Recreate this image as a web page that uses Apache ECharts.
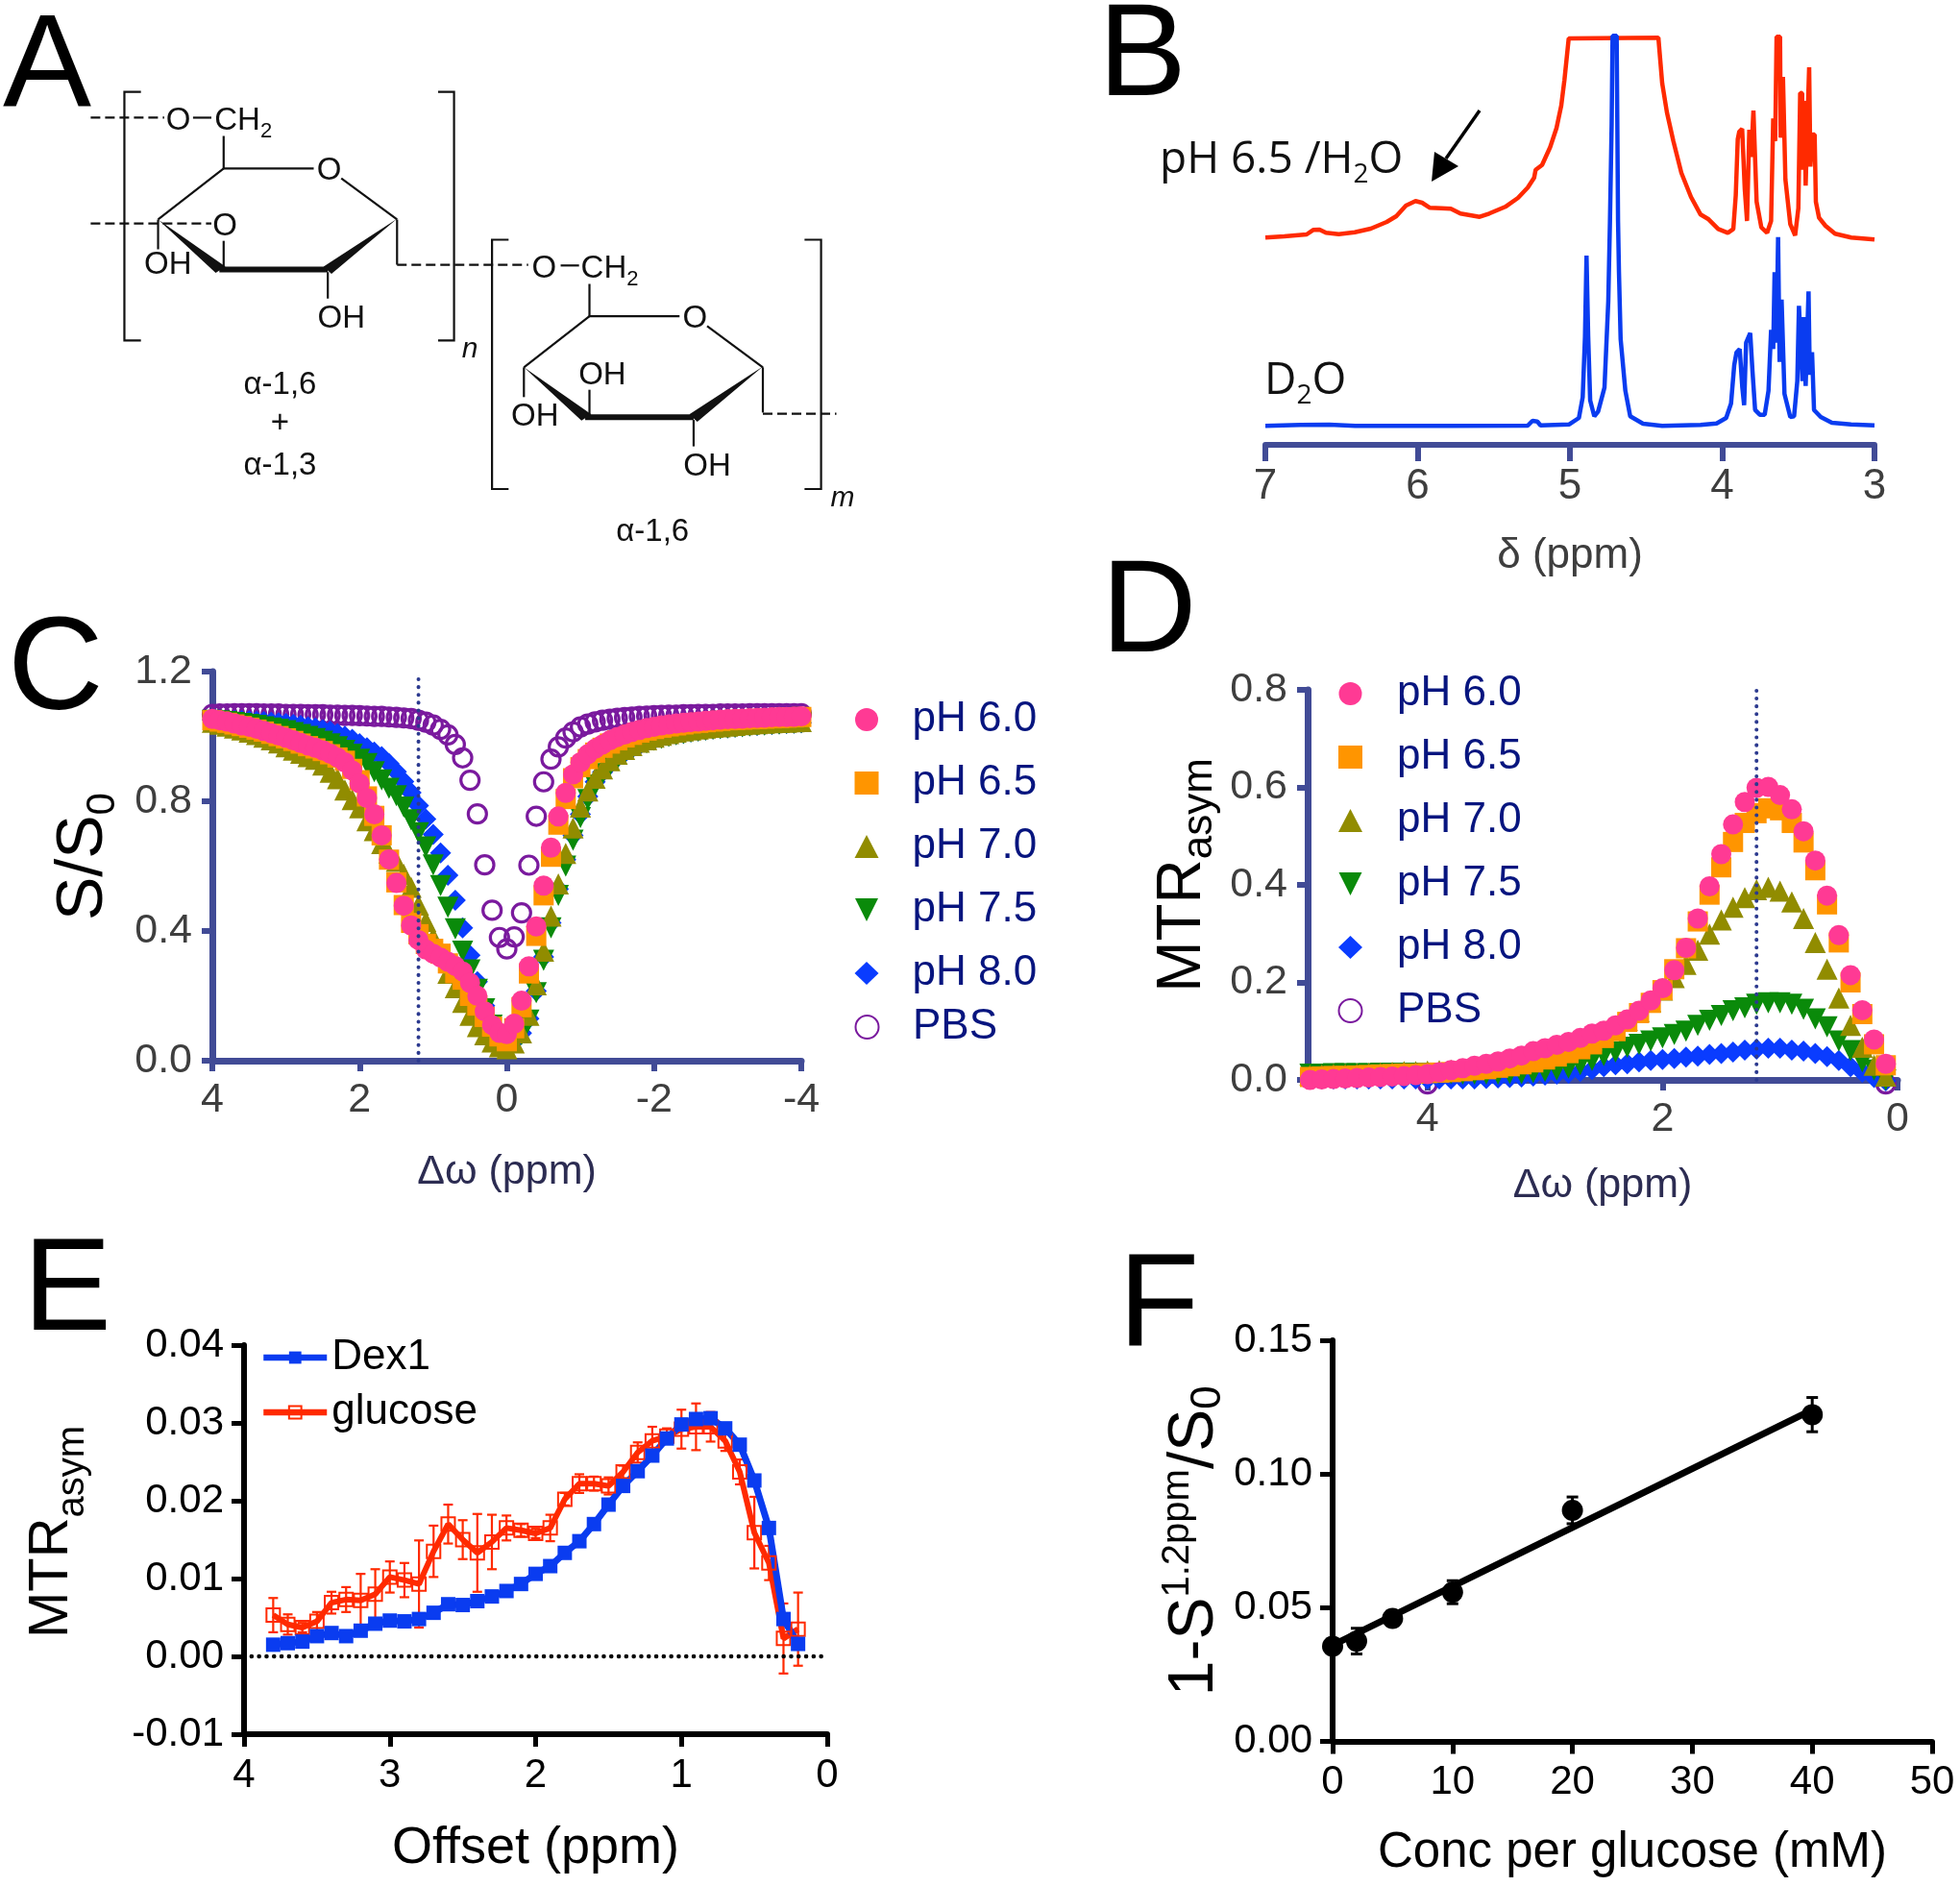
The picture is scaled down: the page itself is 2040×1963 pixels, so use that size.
<!DOCTYPE html>
<html><head><meta charset="utf-8">
<style>html,body{margin:0;padding:0;background:#fff}#c{width:2040px;height:1963px}</style>
<script src="https://cdn.jsdelivr.net/npm/echarts@6/dist/echarts.min.js"></script>
</head><body><div id="c"></div>
<script>
// ---------- Panel B ----------
const nmrRedPpm=[7.00,6.876,6.729,6.686,6.644,6.602,6.518,6.413,6.308,6.203,6.14,6.077,6.014,5.971,5.919,5.845,5.782,5.719,5.656,5.593,5.53,5.425,5.341,5.277,5.235,5.225,5.183,5.13,5.088,5.057,5.036,5.008,4.419,4.394,4.363,4.321,4.268,4.205,4.142,4.089,4.026,3.963,3.927,3.911,3.898,3.888,3.869,3.852,3.837,3.822,3.81,3.795,3.774,3.743,3.705,3.679,3.665,3.652,3.643,3.62,3.616,3.601,3.585,3.553,3.521,3.5,3.488,3.475,3.469,3.459,3.452,3.441,3.429,3.421,3.406,3.393,3.385,3.364,3.322,3.259,3.153,3.0];
const nmrRedInt=[215.7,217,219,223.7,224,220.7,219.3,221.3,225,232,238,249,253.7,252,246.7,246.3,245.7,240.7,239,237.3,240.7,247.7,257,267.7,278,286.3,291.3,309.7,329.7,353,379.7,423,423.7,376.3,346,316.3,283,258,239.7,234.7,224.7,220.7,224.7,259.7,318,326,329,266.3,233,328,299.7,348,253,226.3,220.7,233,339.7,316,424.7,424.7,319.7,383,276.3,229.7,218,246.3,366.3,366,286.3,358,269.7,333,393,289.7,323,323,253,236.3,228,219.7,215.7,213.7];
const nmrBluePpm=[7.0,6.77,6.58,6.41,5.78,5.277,5.246,5.214,5.193,5.004,4.941,4.916,4.901,4.891,4.88,4.867,4.84,4.815,4.773,4.748,4.737,4.726,4.72,4.693,4.684,4.678,4.667,4.636,4.604,4.52,4.394,4.142,4.037,3.974,3.942,3.921,3.906,3.885,3.868,3.856,3.843,3.816,3.801,3.784,3.753,3.721,3.696,3.679,3.665,3.656,3.644,3.633,3.623,3.61,3.591,3.553,3.528,3.507,3.496,3.486,3.473,3.465,3.452,3.433,3.425,3.41,3.397,3.353,3.28,3.154,3.0];
const nmrBlueInt=[19.7,20.7,21,19.7,19.7,20,25,24.3,20.3,21.3,28,49.7,113,197,113,46.3,29.7,34.7,59.7,149.7,233,333,425.7,425.7,233,180,110,56.3,29.7,22,19.7,20.7,22.3,28,43,83,96.3,99.7,59.7,41.3,106.3,116.3,76.3,36.3,31.3,31.3,56.3,119.7,99.7,179.7,106.3,216.3,86.3,151.3,53,29,29.7,66.3,144.7,144.7,66.3,133,61.3,159.7,73,96.3,36.3,29,23,21.3,20.3];

// ---------- Panel C ----------
const zOffsets=[4,3.9,3.8,3.7,3.6,3.5,3.4,3.3,3.2,3.1,3,2.9,2.8,2.7,2.6,2.5,2.4,2.3,2.2,2.1,2,1.9,1.8,1.7,1.6,1.5,1.4,1.3,1.2,1.1,1,.9,.8,.7,.6,.5,.4,.3,.2,.1,0,-.1,-.2,-.3,-.4,-.5,-.6,-.7,-.8,-.9,-1,-1.1,-1.2,-1.3,-1.4,-1.5,-1.6,-1.7,-1.8,-1.9,-2,-2.1,-2.2,-2.3,-2.4,-2.5,-2.6,-2.7,-2.8,-2.9,-3,-3.1,-3.2,-3.3,-3.4,-3.5,-3.6,-3.7,-3.8,-3.9,-4];
const zPh60=[1.054,1.05,1.046,1.04,1.034,1.03,1.024,1.017,1.01,1.003,.996,.988,.98,.972,.965,.957,.947,.935,.92,.895,.855,.81,.76,.695,.621,.548,.478,.417,.372,.343,.33,.318,.305,.292,.275,.24,.2,.152,.11,.086,.082,.114,.185,.291,.414,.54,.657,.753,.826,.883,.92,.945,.962,.975,.988,.998,1.006,1.014,1.02,1.026,1.03,1.034,1.037,1.04,1.042,1.044,1.046,1.048,1.05,1.052,1.053,1.054,1.055,1.056,1.057,1.058,1.059,1.06,1.06,1.061,1.062];
const zPh65=[1.05,1.046,1.042,1.037,1.032,1.027,1.021,1.015,1.008,1.001,.994,.986,.978,.97,.963,.955,.945,.935,.925,.9,.865,.815,.755,.695,.62,.55,.48,.425,.39,.36,.345,.33,.3,.27,.25,.2,.17,.135,.105,.075,.06,.1,.165,.269,.385,.51,.629,.728,.807,.871,.905,.93,.95,.965,.978,.988,.997,1.005,1.012,1.018,1.023,1.027,1.031,1.034,1.037,1.04,1.042,1.044,1.046,1.048,1.05,1.051,1.052,1.053,1.054,1.055,1.056,1.057,1.058,1.059,1.06];
const zPh70=[1.044,1.038,1.032,1.026,1.02,1.013,1.006,.998,.99,.98,.968,.958,.948,.938,.93,.912,.89,.87,.835,.805,.78,.74,.71,.67,.64,.615,.575,.535,.48,.43,.38,.335,.27,.225,.18,.14,.105,.08,.058,.043,.037,.055,.086,.14,.234,.338,.446,.545,.639,.718,.782,.832,.871,.9,.925,.945,.96,.972,.982,.99,.998,1.004,1.009,1.013,1.017,1.02,1.023,1.026,1.028,1.03,1.032,1.034,1.036,1.038,1.039,1.041,1.042,1.043,1.044,1.045,1.046];
const zPh75=[1.05,1.048,1.046,1.043,1.04,1.037,1.034,1.03,1.026,1.022,1.018,1.012,1.006,1,.993,.985,.977,.968,.957,.945,.93,.916,.891,.866,.84,.817,.782,.743,.703,.659,.604,.54,.473,.407,.338,.28,.22,.16,.11,.07,.05,.055,.08,.125,.21,.31,.41,.51,.6,.68,.75,.805,.85,.885,.91,.93,.948,.96,.972,.98,.988,.994,1,1.005,1.009,1.013,1.016,1.019,1.022,1.024,1.026,1.028,1.03,1.032,1.034,1.035,1.037,1.038,1.04,1.041,1.042];
const zPh80=[1.051,1.051,1.05,1.05,1.049,1.048,1.047,1.046,1.044,1.042,1.04,1.037,1.034,1.03,1.026,1.021,1.016,1.009,1.001,.991,.978,.965,.952,.938,.916,.891,.861,.827,.787,.745,.698,.641,.572,.495,.41,.325,.244,.17,.115,.07,.05,.06,.085,.13,.215,.32,.425,.53,.62,.695,.76,.815,.86,.89,.915,.935,.95,.963,.973,.982,.99,.996,1.002,1.006,1.01,1.014,1.017,1.02,1.023,1.025,1.027,1.029,1.031,1.033,1.034,1.036,1.037,1.039,1.04,1.041,1.042];
const zPbs=[1.068,1.069,1.069,1.07,1.07,1.07,1.07,1.069,1.069,1.069,1.068,1.068,1.068,1.067,1.067,1.067,1.066,1.066,1.065,1.065,1.064,1.063,1.062,1.062,1.06,1.059,1.057,1.055,1.05,1.044,1.035,1.022,1.005,.975,.934,.865,.761,.604,.464,.38,.345,.382,.456,.603,.754,.86,.93,.968,.995,1.014,1.029,1.038,1.045,1.05,1.053,1.056,1.058,1.06,1.062,1.063,1.064,1.065,1.066,1.066,1.067,1.067,1.068,1.068,1.068,1.069,1.069,1.069,1.069,1.07,1.07,1.07,1.07,1.07,1.07,1.07,1.07];

// ---------- Panel D ----------
const mOffsets=[5,4.9,4.8,4.7,4.6,4.5,4.4,4.3,4.2,4.1,4,3.9,3.8,3.7,3.6,3.5,3.4,3.3,3.2,3.1,3,2.9,2.8,2.7,2.6,2.5,2.4,2.3,2.2,2.1,2,1.9,1.8,1.7,1.6,1.5,1.4,1.3,1.2,1.1,1,.9,.8,.7,.6,.5,.4,.3,.2,.1];
const mPh60=[0,.001,.002,.003,.004,.005,.006,.007,.008,.01,.012,.016,.02,.024,.029,.033,.038,.044,.05,.059,.065,.072,.078,.086,.095,.101,.112,.124,.142,.163,.188,.225,.271,.331,.397,.463,.524,.57,.599,.601,.584,.555,.51,.45,.378,.297,.215,.143,.083,.033];
const mPh65=[.006,.007,.008,.008,.009,.01,.011,.012,.013,.013,.014,.015,.016,.018,.02,.022,.025,.028,.032,.036,.042,.048,.055,.063,.073,.086,.1,.119,.137,.158,.184,.227,.27,.325,.38,.436,.488,.527,.547,.557,.553,.527,.487,.43,.36,.282,.2,.135,.073,.03];
const mPh70=[.01,.011,.012,.012,.013,.014,.015,.016,.017,.017,.018,.019,.02,.022,.024,.027,.03,.034,.038,.043,.049,.056,.063,.072,.082,.094,.108,.122,.14,.16,.184,.21,.237,.266,.299,.328,.354,.374,.39,.395,.387,.365,.331,.282,.227,.168,.112,.067,.03,.008];
const mPh75=[.012,.012,.013,.013,.013,.013,.014,.014,.014,.014,.014,.013,.013,.012,.012,.012,.012,.013,.013,.015,.017,.02,.024,.031,.04,.05,.057,.067,.073,.08,.086,.093,.1,.112,.122,.132,.142,.148,.155,.158,.158,.155,.145,.125,.109,.08,.06,.037,.02,0];
const mPh80=[.002,.002,.002,.002,.002,.002,.002,.002,.002,.002,.002,.002,.002,.002,.002,.003,.004,.005,.006,.008,.01,.012,.014,.017,.021,.027,.031,.033,.037,.04,.042,.044,.047,.049,.052,.054,.057,.061,.063,.065,.065,.061,.059,.054,.048,.04,.027,.016,.005,-.002];
const mPbsX=[4,.1];
const mPbs=[-.008,-.008];

// ---------- Panel E ----------
const eOffsets=[3.8,3.7,3.6,3.5,3.4,3.3,3.2,3.1,3,2.9,2.8,2.7,2.6,2.5,2.4,2.3,2.2,2.1,2,1.9,1.8,1.7,1.6,1.5,1.4,1.3,1.2,1.1,1,.9,.8,.7,.6,.5,.4,.3,.2];
const eDex1=[.0015,.0017,.0019,.0026,.003,.0026,.0033,.0042,.0046,.0045,.0048,.0056,.0067,.0066,.0071,.0077,.0084,.0093,.0106,.0116,.0133,.0148,.017,.0195,.0219,.0238,.0258,.028,.0298,.0305,.0306,.0293,.0272,.0226,.0165,.0048,.0016];
const eGlucose=[.0053,.0041,.0037,.0045,.0069,.0073,.0072,.008,.0102,.0098,.0093,.0135,.017,.015,.0133,.0147,.0165,.0162,.0158,.0165,.0202,.0222,.0222,.0219,.0237,.0262,.0277,.0283,.0292,.0295,.0295,.0277,.0237,.0159,.012,.0023,.0035];
const eGlucoseErr=[.0022,.0013,.0006,.0012,.0014,.0016,.0034,.0032,.002,.0022,.0056,.0033,.0025,.0025,.005,.0035,.0016,.0008,.0006,.0017,.0008,.0012,.0009,.0011,.0008,.0013,.0018,.001,.0025,.003,.0019,.0013,.0016,.0046,.0022,.0045,.0047];

// ---------- Panel F ----------
const fConc=[0,2,5,10,20,40];
const fSignal=[.0356,.0375,.046,.0558,.0864,.1222];
const fErr=[.001,.0048,.001,.0043,.005,.0064];
const fFitX=[0,40];
const fFitY=[.036,.124];

// ---------- Styling ----------
const FONT='"Liberation Sans",Arial,sans-serif';
const NAVY='#414b96', TICK='#3e3e3e', LEG='#07157f', DARK='#2c2c52';
const PINK='#ff3a94', ORANGE='#ff9500', OLIVE='#918c00', GREEN='#0a8a0a', BLUE='#0a3cff', PURPLE='#7a1a9e', RED='#ff2a00', EBLUE='#0a3cf0';
const zip=(a,b)=>a.map((v,i)=>[v,b[i]]);
const hidden={show:false};

function xa(gi,o){return Object.assign({type:'value',gridIndex:gi,position:'bottom',splitLine:hidden,nameLocation:'middle',
  nameTextStyle:{fontFamily:FONT,fontSize:o.nameSize,color:o.nameColor},nameGap:o.nameGap,
  axisLine:{onZero:false,lineStyle:{color:o.color,width:o.lw}},
  axisTick:{length:o.tl,lineStyle:{color:o.color,width:o.tw}},
  axisLabel:{fontFamily:FONT,fontSize:o.fs,color:o.lc,margin:o.margin,hideOverlap:false,showMinLabel:true,showMaxLabel:true}},o.x)}
function ya(gi,o){return Object.assign({type:'value',gridIndex:gi,position:'left',splitLine:hidden,nameLocation:'middle',nameRotate:90,
  nameTextStyle:Object.assign({fontFamily:FONT,fontSize:o.nameSize,color:'#000'},o.nameStyle),nameGap:o.nameGap,
  axisLine:{onZero:false,lineStyle:{color:o.color,width:o.lw}},
  axisTick:{length:o.tl,lineStyle:{color:o.color,width:o.tw}},
  axisLabel:{fontFamily:FONT,fontSize:o.fs,color:o.lc,margin:o.margin,showMinLabel:true,showMaxLabel:true,formatter:v=>v.toFixed(o.dec)}},o.y)}

function scat(name,xi,xs,ys,symbol,color,extra){
  return Object.assign({type:'scatter',name,xAxisIndex:xi,yAxisIndex:xi,data:zip(xs,ys),symbol,symbolSize:22,clip:false,itemStyle:{color,opacity:1},emphasis:{disabled:true},silent:true},extra||{});
}
function dotV(xi,x,y1,col){return {type:'line',name:'ref'+xi,xAxisIndex:xi,yAxisIndex:xi,data:[[x,0],[x,y1]],symbol:'none',clip:false,silent:true,lineStyle:{color:col,width:4,type:[.1,8],cap:'round'}}}
const ringSeries=(xi,xs,ys)=>scat('PBS',xi,xs,ys,'circle','rgba(0,0,0,0)',{symbolSize:19,itemStyle:{color:'rgba(255,255,255,0)',borderColor:PURPLE,borderWidth:3.2,opacity:1}});

function errBars(name,xi,xs,ys,es,color,lw,cap){
  return {type:'custom',name,xAxisIndex:xi,yAxisIndex:xi,silent:true,clip:false,
    data:xs.map((x,i)=>[x,ys[i]-es[i],ys[i]+es[i]]),encode:{x:0,y:[1,2]},
    renderItem:(p,api)=>{const a=api.coord([api.value(0),api.value(1)]),b=api.coord([api.value(0),api.value(2)]);
      const st={stroke:color,lineWidth:lw,fill:null};
      return {type:'group',children:[
        {type:'line',shape:{x1:a[0],y1:a[1],x2:b[0],y2:b[1]},style:st},
        {type:'line',shape:{x1:a[0]-cap,y1:a[1],x2:a[0]+cap,y2:a[1]},style:st},
        {type:'line',shape:{x1:b[0]-cap,y1:b[1],x2:b[0]+cap,y2:b[1]},style:st}]};}};
}

const DOWN='path://M0,0L20,0L10,20Z';
const legendNames=['pH 6.0','pH 6.5','pH 7.0',{name:'pH 7.5',icon:DOWN},'pH 8.0'];
const legCommon={orient:'vertical',itemWidth:25,itemHeight:24,selectedMode:false,inactiveColor:'#ccc'};
const legTxt=p=>({fontFamily:FONT,fontSize:44,color:LEG,padding:[0,0,0,p]});

// ---------- Panel A and panel letters: diagram drawn as graphics ----------
const P=(x,y)=>[x/1.568,y/2.613];
function seg(pts,o){return {type:'polyline',silent:true,shape:{points:pts.map(p=>P(p[0],p[1]))},style:Object.assign({stroke:'#111',lineWidth:2.2,fill:null},o||{})}}
function wedge(pts){return {type:'polygon',silent:true,shape:{points:pts.map(p=>P(p[0],p[1]))},style:{fill:'#111'}}}
function t(str,zx,zy,size,o){const p=P(zx,zy);return {type:'text',silent:true,x:p[0],y:p[1]+2,style:Object.assign({text:str,fontFamily:FONT,fontSize:size,fill:'#111',align:'center',verticalAlign:'middle'},o||{})}}
const sub2={rich:{s:{fontFamily:FONT,fontSize:22,fill:'#111',verticalAlign:'bottom',padding:[22,0,0,0]}}};
const dash={lineDash:[10,5]};
function ring(dx,dy){
  const q=a=>a.map(p=>[p[0]+dx,p[1]+dy]);
  return [
    seg(q([[365,370],[365,458],[512,458]])),
    seg(q([[557,485],[648,597]])),
    seg(q([[258,597],[365,458]])),
    wedge(q([[648,595],[528,725],[541,745]])),
    wedge(q([[258,597],[352,742],[368,725]])),
    seg(q([[358,733],[535,733]]),{lineWidth:6}),
    seg(q([[258,597],[258,678]])),
    seg(q([[535,740],[535,812]])),
    seg(q([[648,597],[648,720]])),
    t('O',537+dx,460+dy,33),
    t('OH',557+dx,862+dy,33)
  ];
}
function letter(ch,x,y){return {type:'text',silent:true,x,y,style:{text:ch,fontFamily:FONT,fontSize:138,fill:'#000',verticalAlign:'middle'}}}
const bSub={s:{fontFamily:'"Open Sans"',fontSize:28,fill:'#111',verticalAlign:'bottom',padding:[30,0,0,0]}};
const diagram=[
  ...ring(0,0),...ring(597,402),
  seg([[230,250],[203,250],[203,926],[230,926]]),
  seg([[715,250],[741,250],[741,926],[715,926]]),
  seg([[830,652],[803,652],[803,1330],[830,1330]]),
  seg([[1313,652],[1340,652],[1340,1330],[1313,1330]]),
  seg([[148,320],[268,320]],dash),seg([[315,320],[345,320]]),
  seg([[148,608],[345,608]],dash),seg([[365,655],[365,725]]),
  seg([[648,720],[862,720]],dash),seg([[915,722],[945,722]]),
  seg([[962,1060],[962,1130]]),
  seg([[1245,1125],[1365,1125]],dash),
  t('O',291,323,33),t('O',888,725,33),t('O',367,610,33),
  t('CH{s|2}',397,325,33,sub2),t('CH{s|2}',995,727,33,sub2),
  t('OH',274,715,33),t('OH',983,1015,33),t('OH',873,1128,33),
  t('n',767,945,30,{fontStyle:'italic'}),t('m',1375,1350,30,{fontStyle:'italic'}),
  t('α-1,6',457,1042,33),t('+',457,1148,33),t('α-1,3',457,1262,33),t('α-1,6',1065,1443,33),
  letter('A',3,73),letter('B',1143,61),letter('C',8,700),letter('D',1146,640),letter('E',24,1346),letter('F',1164,1362),
  {type:'text',silent:true,x:1207,y:167,style:{text:'pH 6.5 /H{s|2}O',fontFamily:'"Open Sans"',fontSize:46,fill:'#111',verticalAlign:'middle',rich:bSub}},
  {type:'text',silent:true,x:1316,y:397,style:{text:'D{s|2}O',fontFamily:'"Open Sans"',fontSize:46,fill:'#111',verticalAlign:'middle',rich:bSub}},
  {type:'line',silent:true,shape:{x1:1540,y1:115,x2:1505,y2:165},style:{stroke:'#000',lineWidth:3.5}},
  {type:'polygon',silent:true,shape:{points:[[1490,189],[1493,158],[1518,173]]},style:{fill:'#000'}}
];

// ---------- Chart ----------
const nm=(size,dy)=>({fontFamily:FONT,fontSize:size,color:'#000',verticalAlign:dy>0?'bottom':'top',padding:dy>0?[dy,0,0,0]:[0,0,-dy,0]});
const option={
  animation:false,backgroundColor:'#fff',textStyle:{fontFamily:FONT},
  grid:[
    {left:1317,top:38,width:634,height:425},
    {left:221,top:699,width:613,height:405},
    {left:1361,top:718,width:614,height:406},
    {left:254,top:1400,width:607,height:405},
    {left:1387,top:1395,width:624,height:417.5}
  ],
  xAxis:[
    xa(0,{color:NAVY,lw:6,tl:17,tw:6,fs:44,lc:TICK,margin:22,nameSize:44,nameColor:TICK,nameGap:94,x:{inverse:true,min:3,max:7,interval:1,name:'δ (ppm)'}}),
    xa(1,{color:NAVY,lw:7,tl:11,tw:6,fs:43,lc:TICK,margin:20,nameSize:43,nameColor:DARK,nameGap:95,x:{inverse:true,min:-4,max:4,interval:2,name:'Δω (ppm)'}}),
    (()=>{const a=xa(2,{color:NAVY,lw:7,tl:11,tw:6,fs:43,lc:TICK,margin:20,nameSize:43,nameColor:DARK,nameGap:89,x:{inverse:true,min:0,max:5.02,name:'Δω (ppm)'}});a.axisLabel.customValues=[0,2,4];a.axisTick.customValues=[0,2,4];return a})(),
    xa(3,{color:'#000',lw:6,tl:13,tw:5,fs:42,lc:'#000',margin:22,nameSize:54,nameColor:'#000',nameGap:92,x:{inverse:true,min:0,max:4,interval:1,name:'Offset (ppm)'}}),
    xa(4,{color:'#000',lw:6,tl:13,tw:5,fs:42,lc:'#000',margin:22,nameSize:51,nameColor:'#000',nameGap:91,x:{min:0,max:50,interval:10,name:'Conc per glucose (mM)'}})
  ],
  yAxis:[
    {type:'value',gridIndex:0,show:false,min:0,max:425},
    ya(1,{color:NAVY,lw:7,tl:11,tw:6,fs:43,lc:TICK,margin:21,dec:1,nameSize:68,nameGap:93,nameStyle:{padding:[0,0,0,20],rich:{s:nm(42,40)}},y:{min:0,max:1.2,interval:.4,name:'S/S{s|0}'}}),
    ya(2,{color:NAVY,lw:7,tl:11,tw:6,fs:43,lc:TICK,margin:21,dec:1,nameSize:64,nameGap:90,nameStyle:{padding:[0,0,0,20],rich:{s:nm(44,36)}},y:{min:0,max:.8,interval:.2,name:'MTR{s|asym}'}}),
    ya(3,{color:'#000',lw:6,tl:13,tw:5,fs:42,lc:'#000',margin:21,dec:2,nameSize:58,nameGap:158,nameStyle:{padding:[0,0,0,16],rich:{s:nm(40,44)}},y:{min:-.01,max:.04,interval:.01,name:'MTR{s|asym}'}}),
    ya(4,{color:'#000',lw:6,tl:13,tw:5,fs:42,lc:'#000',margin:21,dec:2,nameSize:66,nameGap:103,nameStyle:{padding:[0,0,0,0],rich:{u:nm(40,-30),s:nm(44,30)}},y:{min:0,max:.15,interval:.05,name:'1-S{u|1.2ppm}/S{s|0}'}})
  ],
  legend:[
    Object.assign({},legCommon,{left:884.5,top:722,itemGap:22,data:legendNames,textStyle:legTxt(30)}),
    Object.assign({},legCommon,{left:884.5,top:1042,data:['PBS'],textStyle:legTxt(30)}),
    Object.assign({},legCommon,{left:1387.5,top:695,itemGap:22,data:legendNames.concat(['PBS']),textStyle:legTxt(31)}),
    {orient:'vertical',left:266,top:1386,itemWidth:66,itemHeight:16,itemGap:13,selectedMode:false,lineStyle:{width:6.5},data:['Dex1','glucose'],textStyle:{fontFamily:FONT,fontSize:44,color:'#000'}}
  ],
  series:[
    {type:'line',name:'pH 6.5 /H2O',xAxisIndex:0,yAxisIndex:0,data:zip(nmrRedPpm,nmrRedInt),symbol:'none',clip:false,silent:true,lineStyle:{color:RED,width:4.5}},
    {type:'line',name:'D2O',xAxisIndex:0,yAxisIndex:0,data:zip(nmrBluePpm,nmrBlueInt),symbol:'none',clip:false,silent:true,lineStyle:{color:EBLUE,width:4.5}},

    dotV(1,1.2,1.2,'#2c3a8f'),
    ringSeries(1,zOffsets,zPbs),
    scat('pH 8.0',1,zOffsets,zPh80,'diamond',BLUE),
    scat('pH 7.5',1,zOffsets,zPh75,'triangle',GREEN,{symbolRotate:180}),
    scat('pH 7.0',1,zOffsets,zPh70,'triangle',OLIVE),
    scat('pH 6.5',1,zOffsets,zPh65,'rect',ORANGE,{symbolSize:21}),
    scat('pH 6.0',1,zOffsets,zPh60,'circle',PINK,{symbolSize:21}),

    dotV(2,1.2,.8,'#2c3a8f'),
    ringSeries(2,mPbsX,mPbs),
    scat('pH 8.0',2,mOffsets,mPh80,'diamond',BLUE),
    scat('pH 7.5',2,mOffsets,mPh75,'triangle',GREEN,{symbolRotate:180}),
    scat('pH 7.0',2,mOffsets,mPh70,'triangle',OLIVE),
    scat('pH 6.5',2,mOffsets,mPh65,'rect',ORANGE,{symbolSize:21}),
    scat('pH 6.0',2,mOffsets,mPh60,'circle',PINK,{symbolSize:21}),

    {type:'line',name:'zero',xAxisIndex:3,yAxisIndex:3,data:[[4,0],[0,0]],symbol:'none',clip:false,silent:true,lineStyle:{color:'#000',width:4.5,type:[.1,7.7],cap:'round'}},
    errBars('glucose err',3,eOffsets,eGlucose,eGlucoseErr,RED,2.2,5),
    {type:'line',name:'glucose',xAxisIndex:3,yAxisIndex:3,data:zip(eOffsets,eGlucose),symbol:'rect',symbolSize:14,clip:false,silent:true,lineStyle:{color:RED,width:6},itemStyle:{color:'rgba(255,255,255,0)',borderColor:RED,borderWidth:2}},
    {type:'line',name:'Dex1',xAxisIndex:3,yAxisIndex:3,data:zip(eOffsets,eDex1),symbol:'rect',symbolSize:15,clip:false,silent:true,lineStyle:{color:EBLUE,width:7},itemStyle:{color:EBLUE}},

    errBars('conc err',4,fConc,fSignal,fErr,'#000',3,6),
    {type:'line',name:'fit',xAxisIndex:4,yAxisIndex:4,data:zip(fFitX,fFitY),symbol:'none',clip:false,silent:true,lineStyle:{color:'#000',width:7}},
    {type:'scatter',name:'conc',xAxisIndex:4,yAxisIndex:4,data:zip(fConc,fSignal),symbol:'circle',symbolSize:22,clip:false,silent:true,itemStyle:{color:'#000',opacity:1}}
  ],
  graphic:{elements:diagram}
};
const chart=echarts.init(document.getElementById('c'),null,{renderer:'canvas',width:2040,height:1963});
chart.setOption(option);
</script></body></html>
